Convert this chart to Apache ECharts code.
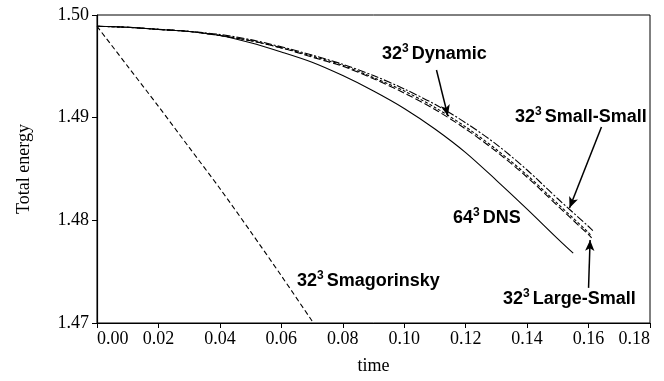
<!DOCTYPE html>
<html>
<head>
<meta charset="utf-8">
<script src="https://cdn.jsdelivr.net/npm/echarts@6/dist/echarts.min.js"></script>
<style>
  html, body { margin: 0; padding: 0; background: #fff; }
  #myChart { width: 664px; height: 381px; }
</style>
</head>
<body>
<div id="myChart"></div>
<script>
// time axis ticks
const xTicks = [0, 0.02, 0.04, 0.06, 0.08, 0.1, 0.12, 0.14, 0.16, 0.18];
const yTicks = [1.47, 1.48, 1.49, 1.5];

// 64^3 DNS
const dnsTime = [0, 0.01, 0.02, 0.03, 0.04, 0.05, 0.06, 0.07, 0.08, 0.09, 0.1, 0.11, 0.12, 0.13, 0.14, 0.15, 0.155];
const dnsEnergy = [1.4989, 1.4988, 1.4986, 1.4984, 1.498, 1.4973, 1.4964, 1.4954, 1.4941, 1.4926, 1.4909, 1.4889, 1.4866, 1.4839, 1.4811, 1.4782, 1.4768];

// 32^3 Dynamic
const dynTime = [0, 0.01, 0.02, 0.03, 0.04, 0.05, 0.06, 0.07, 0.08, 0.09, 0.1, 0.11, 0.12, 0.13, 0.14, 0.15, 0.16, 0.161];
const dynEnergy = [1.4989, 1.4988, 1.4986, 1.4984, 1.498, 1.4975, 1.4968, 1.496, 1.4951, 1.4939, 1.4926, 1.491, 1.4891, 1.4869, 1.4844, 1.4816, 1.4788, 1.4784];

// 32^3 Large-Small
const lsTime = [0, 0.01, 0.02, 0.03, 0.04, 0.05, 0.06, 0.07, 0.08, 0.09, 0.1, 0.11, 0.12, 0.13, 0.14, 0.15, 0.16, 0.161];
const lsEnergy = [1.4989, 1.4988, 1.4986, 1.4984, 1.498, 1.4975, 1.4968, 1.4959, 1.495, 1.4938, 1.4924, 1.4908, 1.4889, 1.4867, 1.4842, 1.4814, 1.4786, 1.4783];

// 32^3 Small-Small
const ssTime = [0, 0.01, 0.02, 0.03, 0.04, 0.05, 0.06, 0.07, 0.08, 0.09, 0.1, 0.11, 0.12, 0.13, 0.14, 0.15, 0.16, 0.1614];
const ssEnergy = [1.4989, 1.4988, 1.4986, 1.4984, 1.4981, 1.4976, 1.4969, 1.4961, 1.4952, 1.4941, 1.4928, 1.4913, 1.4895, 1.4874, 1.4849, 1.4821, 1.4794, 1.479];

// 32^3 Smagorinsky
const smagTime = [0, 0.01, 0.02, 0.03, 0.04, 0.05, 0.06, 0.07, 0.072];
const smagEnergy = [1.4989, 1.495, 1.4911, 1.4871, 1.4831, 1.4789, 1.4746, 1.4702, 1.4693];

// annotation arrows, [from, to] in data units
const arrows = [
  [[0.1105, 1.49464], [0.1142, 1.49017]],
  [[0.1642, 1.48909], [0.1538, 1.48121]],
  [[0.1600, 1.47342], [0.1605, 1.47809]]
];

function pairs(xs, ys) {
  return xs.map(function (x, i) { return [x, ys[i]]; });
}

let chart = echarts.init(document.getElementById("myChart"));

const labelFont = "bold 18px 'Liberation Sans', Arial, sans-serif";
const rich = {
  b: { font: labelFont, lineHeight: 21, verticalAlign: "bottom" },
  s: { font: "bold 12px 'Liberation Sans', Arial, sans-serif", lineHeight: 21, verticalAlign: "top", padding: [0, 3, 0, 0] }
};

function label(txt, x, y) {
  return {
    type: "text",
    x: x,
    y: y,
    style: {
      text: txt,
      rich: rich,
      fill: "#000",
      verticalAlign: "middle"
    }
  };
}

function line(name, xs, ys, type) {
  return {
    name: name,
    type: "line",
    data: pairs(xs, ys),
    showSymbol: false,
    smooth: 0.3,
    silent: true,
    lineStyle: { color: "#000", width: 1.1, type: type }
  };
}

let series = [
  line("64³ DNS", dnsTime, dnsEnergy, "solid"),
  line("32³ Dynamic", dynTime, dynEnergy, [3, 2]),
  line("32³ Large-Small", lsTime, lsEnergy, [7, 3]),
  line("32³ Small-Small", ssTime, ssEnergy, [8, 2, 2, 2]),
  line("32³ Smagorinsky", smagTime, smagEnergy, [5, 3])
];

// arrows drawn as a markLine on the first series
series[0].markLine = {
  silent: true,
  animation: false,
  symbol: ["none", "arrow"],
  symbolSize: [7, 11],
  label: { show: false },
  lineStyle: { color: "#000", width: 1.5, type: "solid" },
  data: arrows.map(function (a) {
    return [{ coord: a[0] }, { coord: a[1] }];
  })
};

let option = {
  animation: false,
  grid: {
    left: 97,
    right: 14,
    top: 15,
    bottom: 58,
    show: true,
    borderColor: "#000",
    borderWidth: 1
  },
  xAxis: {
    type: "value",
    min: xTicks[0],
    max: xTicks[xTicks.length - 1],
    interval: 0.02,
    name: "time",
    nameLocation: "middle",
    nameGap: 34,
    nameTextStyle: { fontFamily: "'Liberation Serif', serif", fontSize: 18, color: "#000" },
    axisLine: { lineStyle: { color: "#000", width: 1.2 } },
    axisTick: { length: 5, lineStyle: { color: "#000" } },
    axisLabel: {
      fontFamily: "'Liberation Serif', serif",
      fontSize: 18,
      color: "#000",
      margin: 7,
      alignMinLabel: "left",
      alignMaxLabel: "right",
      formatter: function (v) { return v.toFixed(2); }
    },
    splitLine: { show: false }
  },
  yAxis: {
    type: "value",
    min: yTicks[0],
    max: yTicks[yTicks.length - 1],
    interval: 0.01,
    name: "Total energy",
    nameLocation: "middle",
    nameGap: 64,
    nameTextStyle: { fontFamily: "'Liberation Serif', serif", fontSize: 18, color: "#000" },
    axisLine: { lineStyle: { color: "#000", width: 1.2 } },
    axisTick: { length: 5, lineStyle: { color: "#000" } },
    axisLabel: {
      fontFamily: "'Liberation Serif', serif",
      fontSize: 18,
      color: "#000",
      margin: 8,
      formatter: function (v) { return v.toFixed(2); }
    },
    splitLine: { show: false }
  },
  graphic: [
    label("{b|32}{s|3}{b|Dynamic}", 382, 53),
    label("{b|32}{s|3}{b|Small-Small}", 515, 116),
    label("{b|64}{s|3}{b|DNS}", 453, 217),
    label("{b|32}{s|3}{b|Smagorinsky}", 297, 280),
    label("{b|32}{s|3}{b|Large-Small}", 503, 298)
  ],
  series: series
};

chart.setOption(option);
</script>
</body>
</html>
